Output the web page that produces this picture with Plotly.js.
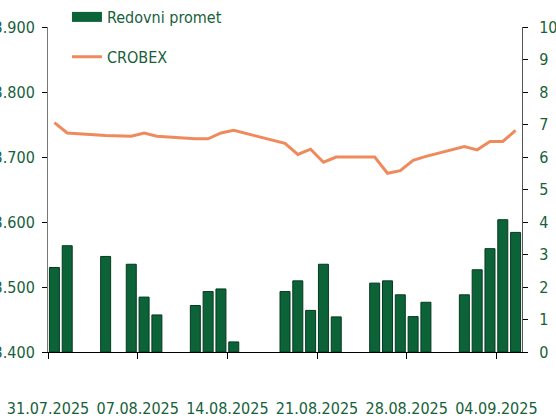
<!DOCTYPE html>
<html>
<head>
<meta charset="utf-8">
<script src="https://cdn.plot.ly/plotly-3.0.1.min.js"></script>
<style>
html,body{margin:0;padding:0;background:#fff;}
#chart{width:556px;height:419px;}
</style>
</head>
<body>
<div id="chart"></div>
<script>
// Trading days
const dates = [
  "2025-07-31","2025-08-01","2025-08-04","2025-08-06","2025-08-07","2025-08-08",
  "2025-08-11","2025-08-12","2025-08-13","2025-08-14",
  "2025-08-18","2025-08-19","2025-08-20","2025-08-21","2025-08-22",
  "2025-08-25","2025-08-26","2025-08-27","2025-08-28","2025-08-29",
  "2025-09-01","2025-09-02","2025-09-03","2025-09-04","2025-09-05"
];
// Redovni promet (right axis)
const turnover = [
  2.60, 3.27, 2.94, 2.70, 1.69, 1.14,
  1.43, 1.86, 1.94, 0.31,
  1.86, 2.19, 1.28, 2.70, 1.08,
  2.12, 2.19, 1.76, 1.09, 1.53,
  1.76, 2.53, 3.18, 4.07, 3.68
];
// CROBEX (left axis)
const crobex = [
  3753, 3737, 3733, 3732, 3737, 3732,
  3728, 3728, 3737, 3741,
  3721, 3704, 3712, 3692, 3700,
  3700, 3675, 3679, 3695, 3701,
  3716, 3711, 3724, 3724, 3741
];
const tickDates = ["2025-07-31","2025-08-07","2025-08-14","2025-08-21","2025-08-28","2025-09-04"];
const tickLabels = ["31.07.2025","07.08.2025","14.08.2025","21.08.2025","28.08.2025","04.09.2025"];
const leftTicks = [3400,3500,3600,3700,3800,3900];
const rightTicks = [0,1,2,3,4,5,6,7,8,9,10];

const green = "#0c6338";
const txt = "#17613a";
const orange = "#ef8a5c";
const FONT = "'Liberation Sans Narrow','Arial Narrow','DejaVu Sans Condensed',sans-serif";
const FS = 16;
const DAY = 86400000;

const traces = [
  {
    type: "bar", x: dates, y: turnover, yaxis: "y2",
    xperiod: DAY, xperiodalignment: "middle", width: 0.78*DAY,
    marker: {color: green, line: {color: "#053a20", width: 1}},
    showlegend: false, hoverinfo: "x+y"
  },
  {
    type: "scatter", mode: "lines", x: [null], y: [null], name: "Redovni promet",
    line: {color: green, width: 17}, legend: "legend"
  },
  {
    type: "scatter", mode: "lines", x: dates, y: crobex, name: "CROBEX",
    xperiod: DAY, xperiodalignment: "middle",
    line: {color: orange, width: 3}, legend: "legend2"
  }
];

const layout = {
  width: 556, height: 419,
  margin: {l: 48, r: 34, t: 27, b: 67, pad: 0, autoexpand: false},
  paper_bgcolor: "#fff", plot_bgcolor: "#fff",
  separators: ",.",
  font: {family: FONT, size: FS, color: txt},
  bargap: 0,
  xaxis: {
    type: "date", range: ["2025-07-31", "2025-09-06"],
    tickmode: "array", tickvals: tickDates, ticktext: tickLabels,
    tickangle: 0,
    ticks: "outside", ticklen: 6, tickcolor: "#000", tickwidth: 1,
    ticklabelstandoff: 36,
    showline: true, linecolor: "#000", linewidth: 1.2,
    showgrid: false, zeroline: false, automargin: false,
    tickfont: {family: FONT, size: FS, color: txt}
  },
  yaxis: {
    range: [3400, 3900], tickmode: "array", tickvals: leftTicks,
    tickformat: ",.0f",
    ticks: "outside", ticklen: 5, tickcolor: "#000",
    ticklabelstandoff: 4,
    showline: true, linecolor: "#777", linewidth: 1,
    showgrid: false, zeroline: false, automargin: false,
    tickfont: {family: FONT, size: FS, color: txt}
  },
  yaxis2: {
    range: [0, 10], tickmode: "array", tickvals: rightTicks,
    overlaying: "y", side: "right",
    ticks: "outside", ticklen: 5, tickcolor: "#000",
    ticklabelstandoff: 8,
    showline: true, linecolor: "#555", linewidth: 1,
    showgrid: false, zeroline: false, automargin: false,
    tickfont: {family: FONT, size: FS, color: txt}
  },
  legend: {
    x: 0.040, xanchor: "left", yref: "container", y: 1.0, yanchor: "top",
    bgcolor: "rgba(0,0,0,0)", font: {family: FONT, size: FS, color: txt}
  },
  legend2: {
    x: 0.040, xanchor: "left", yref: "container", y: 0.905, yanchor: "top",
    bgcolor: "rgba(0,0,0,0)", font: {family: FONT, size: FS, color: txt}
  },
  showlegend: true
};

Plotly.newPlot("chart", traces, layout, {displayModeBar: false, staticPlot: true});
</script>
</body>
</html>
